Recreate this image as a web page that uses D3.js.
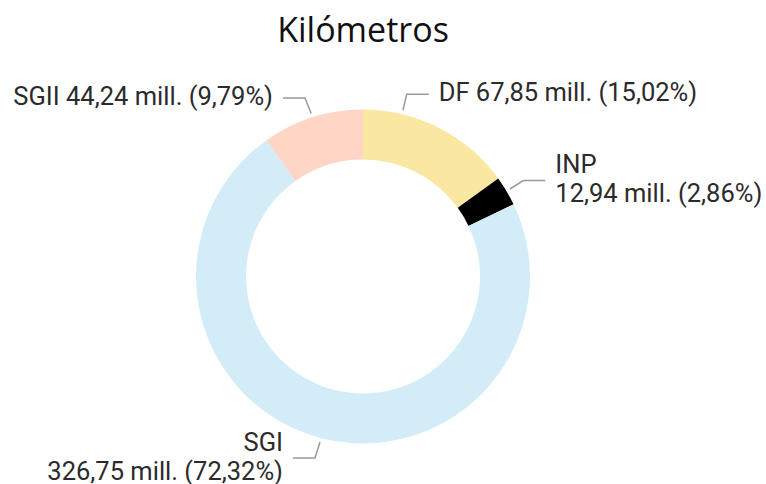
<!DOCTYPE html>
<html>
<head>
<meta charset="utf-8">
<script src="https://cdn.jsdelivr.net/npm/d3@7"></script>
<style>
  body { margin: 0; background: #fff; }
  svg { display: block; }
</style>
</head>
<body>
<svg id="chart"></svg>
<script>
// Datos (kilómetros, en millones)
const categorias = ["DF", "INP", "SGI", "SGII"];
const valores = [67.85, 12.94, 326.75, 44.24];
const porcentajes = [15.02, 2.86, 72.32, 9.79];
const colores = ["#FAE8A2", "#000000", "#D2EDF7", "#FFD5C5"];

// Dimensiones
const width = 766, height = 484;
const cx = 363, cy = 276.5;
const radioExt = 167, radioInt = 117;

// Ubicación de las etiquetas (fracción dentro del sector, codo de la línea, lado)
const etiquetas = {
  "DF":   { frac: 0.25, codo: [406.7, 94.3], lado: 1, lineas: 1 },
  "INP":  { frac: 0.5,  codo: [523.3, 180.5], lado: 1, lineas: 2 },
  "SGI":  { frac: 0.5,  codo: [315, 458],    lado: -1, lineas: 2 },
  "SGII": { frac: 0.5,  codo: [305, 98],     lado: -1, lineas: 1 }
};

const fmt = v => d3.format(".2f")(v).replace(".", ",");

const svg = d3.select("#chart")
    .attr("width", width)
    .attr("height", height);

// Título
svg.append("text")
    .attr("x", cx)
    .attr("y", 42)
    .attr("text-anchor", "middle")
    .attr("font-family", "'Open Sans', sans-serif")
    .attr("font-size", 34)
    .attr("fill", "#111")
    .text("Kilómetros");

const datos = categorias.map((c, i) => ({ cat: c, valor: valores[i], pct: porcentajes[i], color: colores[i] }));

const pie = d3.pie()
    .value(d => d.valor)
    .sort(null);

const arc = d3.arc()
    .innerRadius(radioInt)
    .outerRadius(radioExt);

const g = svg.append("g")
    .attr("transform", `translate(${cx}, ${cy})`);

const arcos = pie(datos);

g.selectAll("path")
    .data(arcos)
    .join("path")
    .attr("d", arc)
    .attr("fill", d => d.data.color);

// Líneas guía y etiquetas
const tramo = 22, hueco = 10, rAncla = radioExt + 4, interlinea = 29;

arcos.forEach(a => {
  const e = etiquetas[a.data.cat];
  const ang = a.startAngle + (a.endAngle - a.startAngle) * e.frac;
  const ax = cx + rAncla * Math.sin(ang);
  const ay = cy - rAncla * Math.cos(ang);
  const fx = e.codo[0] + e.lado * tramo;

  svg.append("polyline")
      .attr("points", [[ax, ay], e.codo, [fx, e.codo[1]]].map(p => p.join(",")).join(" "))
      .attr("fill", "none")
      .attr("stroke", "#9a9a9a")
      .attr("stroke-width", 1.5);

  const texto = `${fmt(a.data.valor)} mill. (${fmt(a.data.pct)}%)`;
  const lineas = e.lineas === 1 ? [`${a.data.cat} ${texto}`] : [a.data.cat, texto];

  const t = svg.append("text")
      .attr("x", fx + e.lado * hueco)
      .attr("y", e.codo[1] + 7 - (lineas.length - 1) * 14.5)
      .attr("text-anchor", e.lado > 0 ? "start" : "end")
      .attr("font-family", "Roboto, sans-serif")
      .attr("font-size", 25.5)
      .attr("fill", "#2b2b2b");

  lineas.forEach((l, i) => {
    t.append("tspan")
        .attr("x", fx + e.lado * hueco)
        .attr("dy", i === 0 ? 0 : interlinea)
        .text(l);
  });
});
</script>
</body>
</html>
